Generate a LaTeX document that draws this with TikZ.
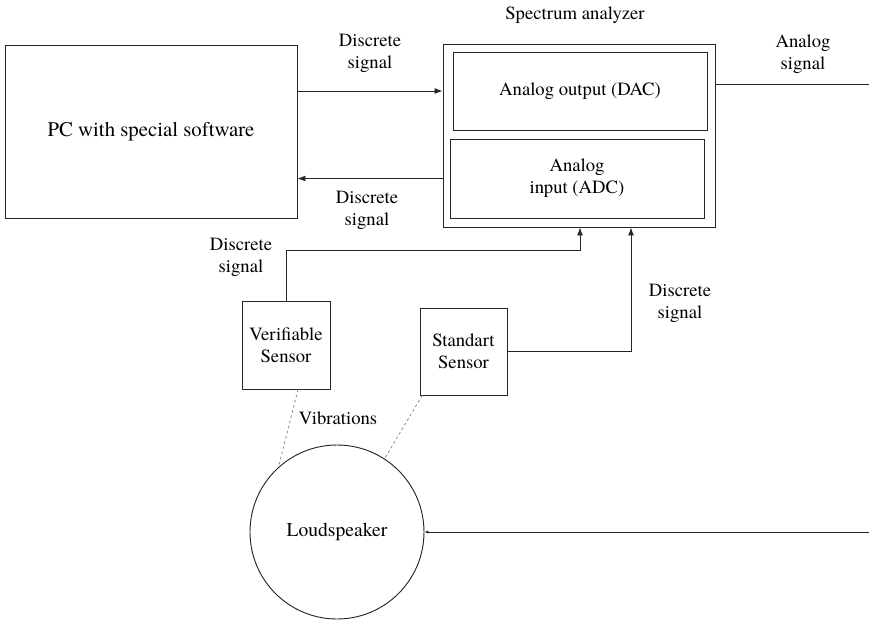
\documentclass[tikz,border=0pt]{standalone}
\usepackage{fontspec}
\setmainfont{texgyretermes}[Extension=.otf, UprightFont=*-regular, BoldFont=*-bold]
\usetikzlibrary{arrows.meta,calc}

\begin{document}
\begin{tikzpicture}[x=0.75pt, y=-0.75pt,
    font=\fontsize{14}{16.5}\selectfont,
    box/.style={draw=black!85, line width=0.7pt, align=center, inner sep=0pt},
    conn/.style={draw=black!85, line width=0.7pt},
    arr/.style={conn, -{Latex[length=6pt, width=4.5pt]}},
    vib/.style={draw=black!45, line width=0.6pt, dash pattern=on 2pt off 2pt},
    lbl/.style={align=center}]
    \useasboundingbox (0,0) rectangle (869,619);

    % 计算机
    \node[box, minimum width=219pt, minimum height=129.75pt, font=\fontsize{15.6}{18}\selectfont] (pc) at (151,131.5) {PC with special software};

    % 频谱分析仪及其内部模块
    \node[box, minimum width=204pt, minimum height=137.25pt] (spec) at (579,135.5) {};
    \node[lbl] (spectitle) at (575,15) {Spectrum analyzer};
    \node[box, minimum width=190.5pt, minimum height=58.5pt] (dac) at (580,91) {Analog output (DAC)};
    \node[box, minimum width=190.5pt, minimum height=59.25pt] (adc) at (577,178.5) {Analog\\input (ADC)};

    % 传感器
    \node[box, minimum width=66pt, minimum height=66pt] (vsens) at (286,345) {Verifiable\\Sensor};
    \node[box, minimum width=65.25pt, minimum height=65.25pt] (ssens) at (463.5,351.5) {Standart\\Sensor};

    % 扬声器
    \node[box, circle, minimum size=130.5pt, font=\fontsize{14.7}{17}\selectfont] (spk) at (337,532) {Loudspeaker};

    % 右侧边缘的连接点
    \coordinate (aout) at (869,84);
    \coordinate (sout) at (869,532);

    % 信号连线
    \draw[arr] (pc.east |- dac) -- (spec.west |- dac);
        \node[lbl] (l1) at (370,53) {Discrete\\signal};
    \draw[arr] (spec.west |- adc) -- (pc.east |- adc);
        \node[lbl] (l2) at (367,210) {Discrete\\signal};
    \draw[conn] (aout -| spec.east) -- (aout);
        \node[lbl] (l3) at (803,54) {Analog\\signal};
    \draw[arr] (vsens.north) |- ($(spec.south)+(1,23)$) -- ($(spec.south)+(1,0)$);
        \node[lbl] (l4) at (241,257) {Discrete\\signal};
    \draw[arr] (ssens.east) -| ($(spec.south)+(52,0)$);
        \node[lbl] (l5) at (680,303) {Discrete\\signal};
    \draw[conn, -{Latex[length=3pt, width=2.5pt]}] (sout) -- (spk.east);

    % 振动（虚线）
    \draw[vib] ([xshift=9pt]vsens.south) -- (spk.132);
    \draw[vib] ([xshift=-31pt]ssens.south) -- (spk.57);
        \node[lbl] (l6) at (338,418) {Vibrations};
\end{tikzpicture}
\end{document}
